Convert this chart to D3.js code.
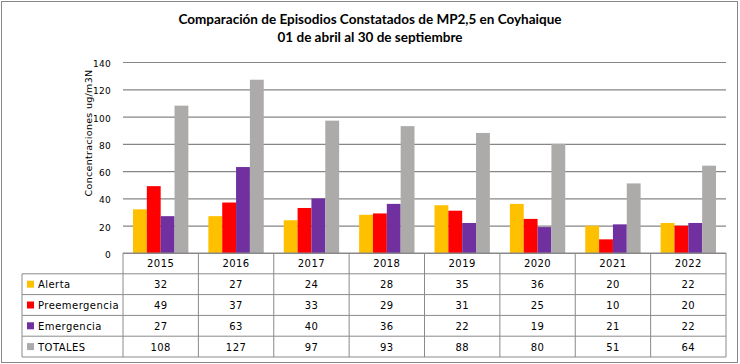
<!DOCTYPE html>
<html>
<head>
<meta charset="utf-8">
<script src="https://cdn.jsdelivr.net/npm/d3@7"></script>
<style>
  body { margin: 0; background: #fff; }
  svg { display: block; }
</style>
</head>
<body>
<div id="chart"></div>
<script>
// data
var years = ["2015", "2016", "2017", "2018", "2019", "2020", "2021", "2022"];
var seriesNames = ["Alerta", "Preemergencia", "Emergencia", "TOTALES"];
var alerta = [32, 27, 24, 28, 35, 36, 20, 22];
var preemergencia = [49, 37, 33, 29, 31, 25, 10, 20];
var emergencia = [27, 63, 40, 36, 22, 19, 21, 22];
var totales = [108, 127, 97, 93, 88, 80, 51, 64];
var yTicks = [0, 20, 40, 60, 80, 100, 120, 140];

var colors = ["#FFC000", "#FF0000", "#7030A0", "#ADAAAA"];
var series = [alerta, preemergencia, emergencia, totales];

var width = 740, height = 364;
var plotLeft = 123, plotRight = 726, plotTop = 62, plotBottom = 253;
var rowH = 20.8, legendLeft = 22;
var tickFont = "'DejaVu Sans', Verdana, sans-serif";
var fontSize = "10px";

var svg = d3.select("#chart").append("svg")
    .attr("width", width)
    .attr("height", height);

// outer border
svg.append("rect")
    .attr("x", 1.5).attr("y", 1.5)
    .attr("width", width - 4).attr("height", height - 3)
    .attr("fill", "#fff")
    .attr("stroke", "#888").attr("stroke-width", 1);

// title
var title = svg.append("text")
    .attr("text-anchor", "middle")
    .style("font-family", "Lato, 'Open Sans', sans-serif")
    .style("font-weight", "bold")
    .style("font-size", "13.5px")
    .attr("fill", "#000");
title.append("tspan").attr("x", 370).attr("y", 24)
    .text("Comparación de Episodios Constatados de MP2,5  en Coyhaique");
title.append("tspan").attr("x", 370).attr("y", 41.5)
    .text("01 de abril al 30 de septiembre");

var x = d3.scaleBand().domain(years).range([plotLeft, plotRight]);
var xInner = d3.scaleBand().domain(seriesNames)
    .range([10, x.bandwidth() - 10]).paddingInner(0).paddingOuter(0);
var y = d3.scaleLinear().domain([0, 140]).range([plotBottom, plotTop]);

// gridlines and y ticks
var yAxis = d3.axisLeft(y).tickValues(yTicks).tickSize(-(plotRight - plotLeft))
    .tickFormat(d3.format("d")).tickPadding(12);
var gy = svg.append("g")
    .attr("transform", "translate(" + plotLeft + ",0)")
    .call(yAxis);
gy.select(".domain").remove();
gy.selectAll(".tick line").attr("stroke", "#868686").attr("stroke-width", 1.2);
gy.selectAll(".tick text")
    .attr("dy", "0.5em")
    .style("font-family", tickFont)
    .style("font-size", "9px")
    .style("letter-spacing", "0.3px")
    .attr("fill", "#000");

// bars
var groups = svg.selectAll(".yearGroup")
    .data(years)
    .enter()
    .append("g")
    .attr("class", "yearGroup")
    .attr("transform", function (d) { return "translate(" + x(d) + ",0)"; });

groups.selectAll("rect")
    .data(function (d, i) {
        return series.map(function (s, k) { return { name: seriesNames[k], value: s[i], color: colors[k] }; });
    })
    .enter()
    .append("rect")
    .attr("x", function (d) { return xInner(d.name); })
    .attr("width", xInner.bandwidth())
    .attr("y", function (d) { return y(d.value); })
    .attr("height", function (d) { return y(0) - y(d.value); })
    .attr("fill", function (d) { return d.color; });

// y axis title
svg.append("text")
    .attr("transform", "translate(92,133) rotate(-90)")
    .attr("text-anchor", "middle")
    .style("font-family", tickFont)
    .style("font-size", "9.5px")
    .style("letter-spacing", "0.3px")
    .attr("fill", "#000")
    .text("Concentraciones ug/m3N");

// data table
var lineColor = "#8a8a8a";
var tableBottom = plotBottom + rowH * 5;
var tbl = svg.append("g")
    .style("font-family", tickFont)
    .style("font-size", fontSize)
    .style("letter-spacing", "0.45px");

// horizontal lines
tbl.append("line").attr("x1", plotLeft).attr("x2", plotRight)
    .attr("y1", plotBottom).attr("y2", plotBottom)
    .attr("stroke", lineColor);
for (var r = 1; r <= 5; r++) {
    tbl.append("line")
        .attr("x1", legendLeft).attr("x2", plotRight)
        .attr("y1", plotBottom + rowH * r).attr("y2", plotBottom + rowH * r)
        .attr("stroke", lineColor);
}
// vertical lines
tbl.append("line").attr("x1", legendLeft).attr("x2", legendLeft)
    .attr("y1", plotBottom + rowH).attr("y2", tableBottom).attr("stroke", lineColor);
years.forEach(function (yr) {
    tbl.append("line").attr("x1", x(yr)).attr("x2", x(yr))
        .attr("y1", plotBottom).attr("y2", tableBottom).attr("stroke", lineColor);
});
tbl.append("line").attr("x1", plotRight).attr("x2", plotRight)
    .attr("y1", plotBottom).attr("y2", tableBottom).attr("stroke", lineColor);

// header years
tbl.selectAll(".yearText")
    .data(years)
    .enter()
    .append("text")
    .attr("class", "yearText")
    .attr("x", function (d) { return x(d) + x.bandwidth() / 2; })
    .attr("y", plotBottom + rowH / 2 + 4)
    .attr("text-anchor", "middle")
    .text(function (d) { return d; });

// rows
seriesNames.forEach(function (name, k) {
    var rowY = plotBottom + rowH * (k + 1);
    tbl.append("rect")
        .attr("x", legendLeft + 5).attr("y", rowY + rowH / 2 - 3.5)
        .attr("width", 7).attr("height", 7)
        .attr("fill", colors[k]);
    tbl.append("text")
        .attr("x", legendLeft + 16).attr("y", rowY + rowH / 2 + 4)
        .text(name);
    tbl.selectAll(".val" + k)
        .data(series[k])
        .enter()
        .append("text")
        .attr("x", function (d, i) { return x(years[i]) + x.bandwidth() / 2; })
        .attr("y", rowY + rowH / 2 + 4)
        .attr("text-anchor", "middle")
        .text(function (d) { return d; });
});
</script>
</body>
</html>
